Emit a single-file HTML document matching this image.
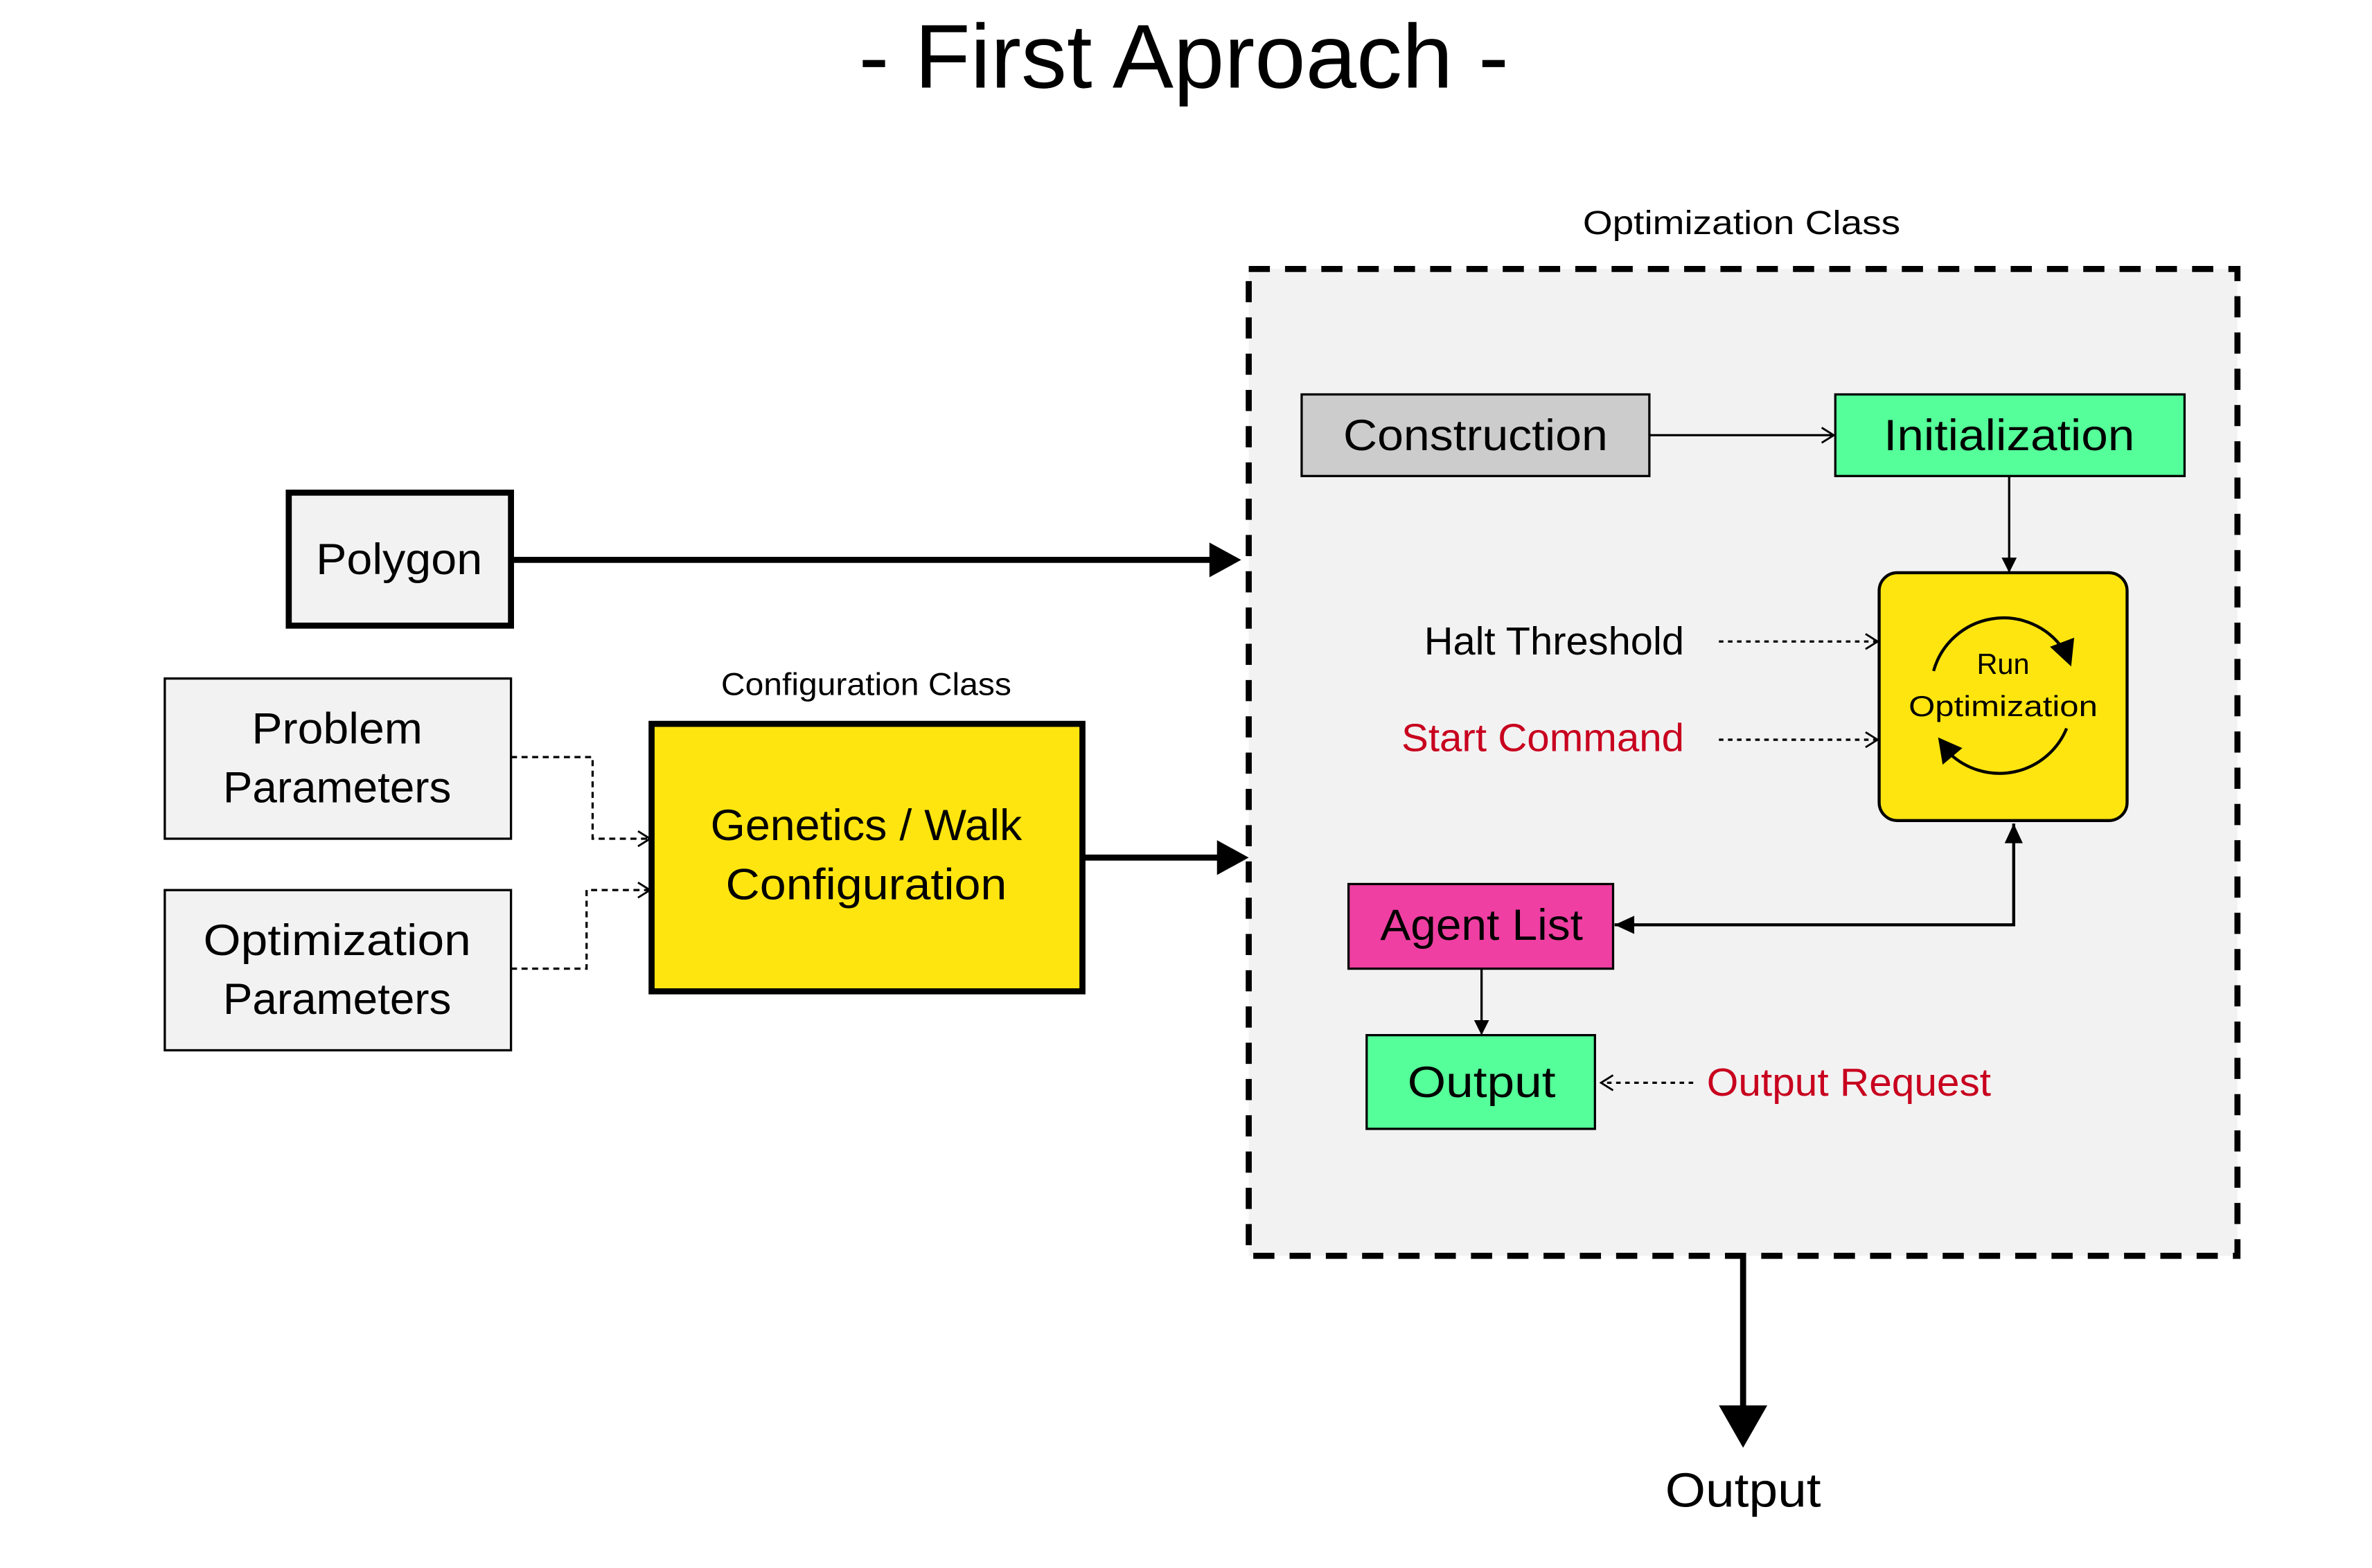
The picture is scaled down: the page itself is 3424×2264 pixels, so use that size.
<!DOCTYPE html>
<html><head><meta charset="utf-8"><style>
html,body{margin:0;padding:0;background:#fff;}
svg{display:block;}
text{font-family:"Liberation Sans",Arial,sans-serif;}
</style></head><body>
<svg width="3424" height="2264" viewBox="0 0 1569 1037.6" preserveAspectRatio="none" xmlns="http://www.w3.org/2000/svg">
<defs>
<marker id="ah" markerWidth="10" markerHeight="10" refX="9" refY="5" orient="auto" markerUnits="userSpaceOnUse"><path d="M0,0 L10,5 L0,10 z" fill="#000"/></marker>
<marker id="op" markerWidth="10" markerHeight="12" refX="9" refY="6" orient="auto" markerUnits="userSpaceOnUse"><path d="M1,1 L9,6 L1,11" fill="none" stroke="#000" stroke-width="1.3"/></marker>
</defs>
<rect width="1569" height="1037.6" fill="#fff"/>
<text x="783" y="58" font-size="60" text-anchor="middle" textLength="430" lengthAdjust="spacingAndGlyphs">- First Aproach -</text>
<text x="1152" y="155" font-size="22" text-anchor="middle" textLength="210" lengthAdjust="spacingAndGlyphs">Optimization Class</text>
<rect x="826" y="178" width="654" height="653" fill="#f2f2f2" stroke="#000" stroke-width="4" stroke-dasharray="14,10"/>
<rect x="861" y="261" width="230" height="54" fill="#cccccc" stroke="#000" stroke-width="1.5"/>
<text x="976" y="298" font-size="29" text-anchor="middle" textLength="175" lengthAdjust="spacingAndGlyphs">Construction</text>
<rect x="1214" y="261" width="231" height="54" fill="#55ff99" stroke="#000" stroke-width="1.5"/>
<text x="1329" y="298" font-size="29" text-anchor="middle" textLength="166" lengthAdjust="spacingAndGlyphs">Initialization</text>
<line x1="1091" y1="288" x2="1213" y2="288" stroke="#000" stroke-width="1.5" marker-end="url(#op)"/>
<line x1="1329" y1="315" x2="1329" y2="378" stroke="#000" stroke-width="1.5" marker-end="url(#ah)"/>
<rect x="1243" y="379" width="164" height="164" rx="12" fill="#ffe510" stroke="#000" stroke-width="2"/>
<path d="M1279,444 A48,48 0 0 1 1365,430" fill="none" stroke="#000" stroke-width="2"/>
<path d="M1356,428 L1372,422 L1370,441 z" fill="#000"/>
<path d="M1367,482 A48,48 0 0 1 1290,499" fill="none" stroke="#000" stroke-width="2"/>
<path d="M1298,495 L1282,488 L1285,506 z" fill="#000"/>
<text x="1325" y="446" font-size="19" text-anchor="middle">Run</text>
<text x="1325" y="474" font-size="19" text-anchor="middle" textLength="125" lengthAdjust="spacingAndGlyphs">Optimization</text>
<text x="1114" y="433" font-size="26" text-anchor="end" textLength="172" lengthAdjust="spacingAndGlyphs">Halt Threshold</text>
<text x="1114" y="497" font-size="26" text-anchor="end" fill="#c8001e" textLength="187" lengthAdjust="spacingAndGlyphs">Start Command</text>
<line x1="1137" y1="424.5" x2="1242" y2="424.5" stroke="#000" stroke-width="1.5" stroke-dasharray="3,3" marker-end="url(#op)"/>
<line x1="1137" y1="489.5" x2="1242" y2="489.5" stroke="#000" stroke-width="1.5" stroke-dasharray="3,3" marker-end="url(#op)"/>
<rect x="892" y="585" width="175" height="56" fill="#ef3fa2" stroke="#000" stroke-width="1.5"/>
<text x="980" y="622" font-size="29" text-anchor="middle" textLength="134" lengthAdjust="spacingAndGlyphs">Agent List</text>
<polyline points="1068,612 1332,612 1332,545" fill="none" stroke="#000" stroke-width="2"/>
<path d="M1068,612 L1081,606 L1081,618 z" fill="#000"/>
<path d="M1332,545 L1326,558 L1338,558 z" fill="#000"/>
<line x1="980" y1="641" x2="980" y2="684" stroke="#000" stroke-width="1.5" marker-end="url(#ah)"/>
<rect x="904" y="685" width="151" height="62" fill="#55ff99" stroke="#000" stroke-width="1.5"/>
<text x="980" y="726" font-size="29" text-anchor="middle" textLength="98" lengthAdjust="spacingAndGlyphs">Output</text>
<line x1="1120" y1="716.5" x2="1059" y2="716.5" stroke="#000" stroke-width="1.5" stroke-dasharray="3,3" marker-end="url(#op)"/>
<text x="1129" y="725" font-size="26" fill="#c8001e" textLength="188" lengthAdjust="spacingAndGlyphs">Output Request</text>
<line x1="1153" y1="831" x2="1153" y2="935" stroke="#000" stroke-width="4"/>
<path d="M1137,930 L1169,930 L1153,958 z" fill="#000"/>
<text x="1153" y="997" font-size="32" text-anchor="middle" textLength="103" lengthAdjust="spacingAndGlyphs">Output</text>
<rect x="191" y="326" width="147" height="88" fill="#f2f2f2" stroke="#000" stroke-width="4"/>
<text x="264" y="380" font-size="29" text-anchor="middle" textLength="110" lengthAdjust="spacingAndGlyphs">Polygon</text>
<line x1="338" y1="370.5" x2="802" y2="370.5" stroke="#000" stroke-width="4"/>
<path d="M800,359 L821,370.5 L800,382 z" fill="#000"/>
<rect x="109" y="449" width="229" height="106" fill="#f2f2f2" stroke="#000" stroke-width="1.5"/>
<text x="223" y="492" font-size="29" text-anchor="middle" textLength="113" lengthAdjust="spacingAndGlyphs">Problem</text>
<text x="223" y="531" font-size="29" text-anchor="middle" textLength="151" lengthAdjust="spacingAndGlyphs">Parameters</text>
<rect x="109" y="589" width="229" height="106" fill="#f2f2f2" stroke="#000" stroke-width="1.5"/>
<text x="223" y="632" font-size="29" text-anchor="middle" textLength="177" lengthAdjust="spacingAndGlyphs">Optimization</text>
<text x="223" y="671" font-size="29" text-anchor="middle" textLength="151" lengthAdjust="spacingAndGlyphs">Parameters</text>
<polyline points="338,501 392,501 392,555 430,555" fill="none" stroke="#000" stroke-width="1.5" stroke-dasharray="4,3" marker-end="url(#op)"/>
<polyline points="338,641 388,641 388,589 430,589" fill="none" stroke="#000" stroke-width="1.5" stroke-dasharray="4,3" marker-end="url(#op)"/>
<text x="573" y="460" font-size="21" text-anchor="middle" textLength="192" lengthAdjust="spacingAndGlyphs">Configuration Class</text>
<rect x="431" y="479" width="285" height="177" fill="#ffe510" stroke="#000" stroke-width="4"/>
<text x="573" y="556" font-size="29" text-anchor="middle" textLength="206" lengthAdjust="spacingAndGlyphs">Genetics / Walk</text>
<text x="573" y="595" font-size="29" text-anchor="middle" textLength="186" lengthAdjust="spacingAndGlyphs">Configuration</text>
<line x1="716" y1="567.5" x2="808" y2="567.5" stroke="#000" stroke-width="4"/>
<path d="M805,556 L826,567.5 L805,579 z" fill="#000"/>
</svg>
</body></html>
